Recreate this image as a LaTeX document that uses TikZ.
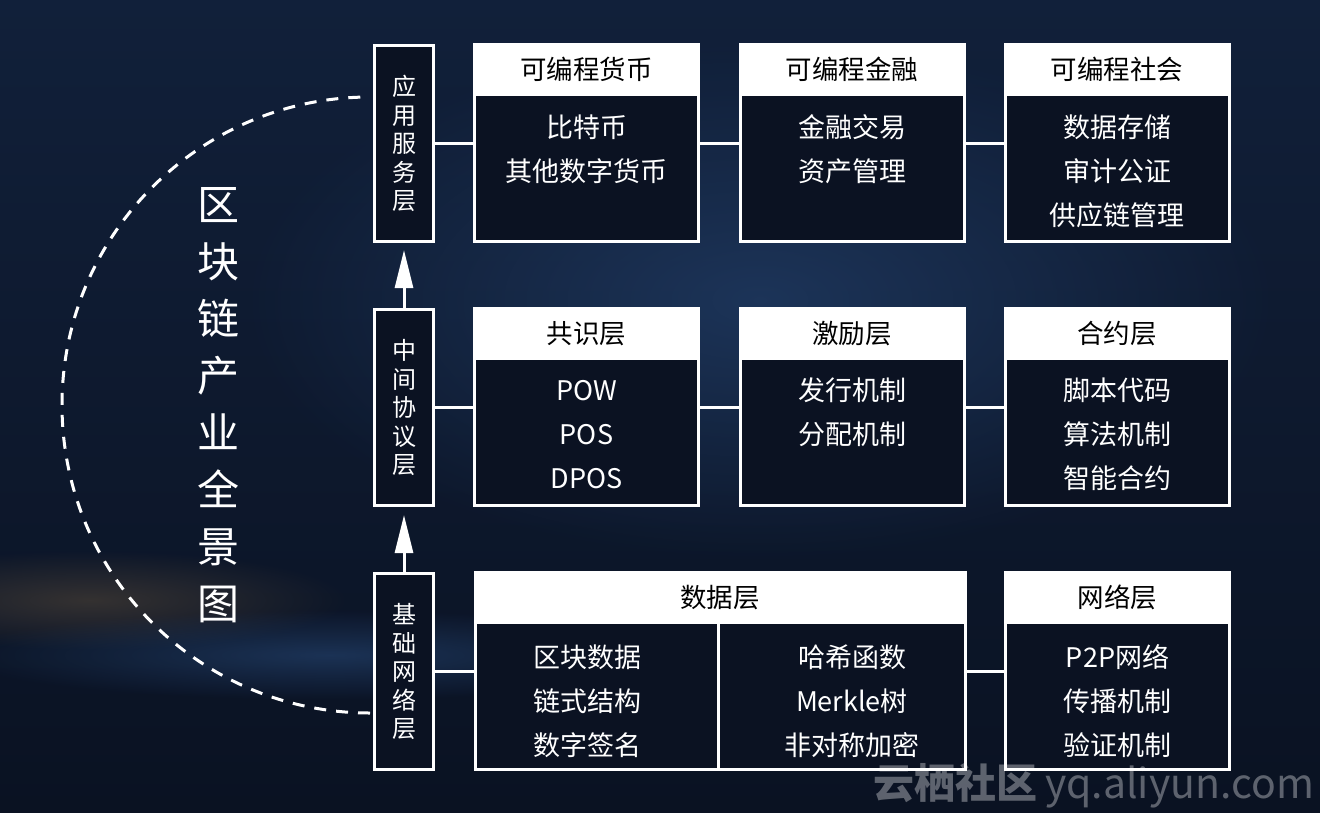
\documentclass[tikz,border=0pt]{standalone}
\usepackage{fontspec}
\setmainfont{Noto Sans CJK SC}
\usetikzlibrary{arrows.meta,fadings}
\definecolor{bgA}{HTML}{11203A}
\definecolor{bgB}{HTML}{0A1222}
\definecolor{boxbg}{HTML}{0B1222}
\definecolor{glowblue}{HTML}{24426E}
\definecolor{warm}{HTML}{4A4036}
\tikzfading[name=softglow, inner color=transparent!35, outer color=transparent!100]
\begin{document}
\begin{tikzpicture}[x=1pt,y=-1pt,
  frame/.style={draw=white, line width=3pt, fill=boxbg, minimum height=196pt, inner sep=0pt},
  layerbox/.style={draw=white, line width=3pt, fill=boxbg, minimum width=59pt, minimum height=196pt,
     inner sep=0pt, text=white, align=center, font=\fontsize{24}{28.5}\selectfont},
  header/.style={fill=white, text=black, minimum height=53pt, inner sep=0pt, anchor=north,
     font=\fontsize{26.5}{30}\selectfont},
  bodytxt/.style={text=white, align=center, inner sep=0pt, font=\fontsize{27}{44}\selectfont},
  conn/.style={draw=white, line width=3pt},
  up/.style={conn, -{Triangle[length=38pt,width=18pt]}},
  titletxt/.style={text=white, align=center, inner sep=0pt, font=\fontsize{42}{57}\selectfont},
  wmark/.style={text=white, opacity=0.34, inner sep=0pt, font=\fontsize{41}{46}\selectfont\bfseries}
]
\useasboundingbox (0,0) rectangle (1320,812);
% background
\shade[top color=bgA, bottom color=bgB] (0,0) rectangle (1320,812);
\fill[glowblue, path fading=softglow] (760,300) ellipse [x radius=520, y radius=260];
\fill[warm, path fading=softglow] (90,600) ellipse [x radius=260, y radius=50];
\fill[glowblue, path fading=softglow] (330,655) ellipse [x radius=380, y radius=45];

% dashed arc
\draw[white, line width=3pt, dash pattern=on 12pt off 10pt] (370,713) arc[start angle=90, end angle=270, radius=308];

% title
\node[titletxt] (title) at (218,405.5) {区\\块\\链\\产\\业\\全\\景\\图};

% layer boxes
\node[layerbox] (L1) at (404,143.5) {应\\用\\服\\务\\层};
\node[layerbox] (L2) at (404,407.5) {中\\间\\协\\议\\层};
\node[layerbox] (L3) at (404,671.5) {基\\础\\网\\络\\层};

% top row
\node[frame, minimum width=224pt] (b11) at (586.5,143.5) {};
\node[header, minimum width=227pt] (h11) at ([yshift=1.5pt]b11.north) {可编程货币};
\node[bodytxt] (t11) at (586.5,149) {比特币\\其他数字货币};

\node[frame, minimum width=224pt] (b12) at (852,143.5) {};
\node[header, minimum width=227pt] (h12) at ([yshift=1.5pt]b12.north) {可编程金融};
\node[bodytxt] (t12) at (852,149) {金融交易\\资产管理};

\node[frame, minimum width=224pt] (b13) at (1117,143.5) {};
\node[header, minimum width=227pt] (h13) at ([yshift=1.5pt]b13.north) {可编程社会};
\node[bodytxt] (t13) at (1117,171) {数据存储\\审计公证\\供应链管理};

% middle row
\node[frame, minimum width=224pt] (b21) at (586.5,407.5) {};
\node[header, minimum width=227pt] (h21) at ([yshift=1.5pt]b21.north) {共识层};
\node[bodytxt] (t21) at (586.5,434.5) {POW\\POS\\DPOS};

\node[frame, minimum width=224pt] (b22) at (852,407.5) {};
\node[header, minimum width=227pt] (h22) at ([yshift=1.5pt]b22.north) {激励层};
\node[bodytxt] (t22) at (852,412.5) {发行机制\\分配机制};

\node[frame, minimum width=224pt] (b23) at (1117,407.5) {};
\node[header, minimum width=227pt] (h23) at ([yshift=1.5pt]b23.north) {合约层};
\node[bodytxt] (t23) at (1117,434.5) {脚本代码\\算法机制\\智能合约};

% bottom row
\node[frame, minimum width=490pt] (b31) at (720,671.5) {};
\node[header, minimum width=493pt] (h31) at ([yshift=1.5pt]b31.north) {数据层};
\draw[conn] ([xshift=-2pt]h31.south) -- ([xshift=-2pt]b31.south);
\node[bodytxt] (t31a) at (587,701) {区块数据\\链式结构\\数字签名};
\node[bodytxt] (t31b) at (852,701) {哈希函数\\Merkle树\\非对称加密};

\node[frame, minimum width=224pt] (b32) at (1117.5,671.5) {};
\node[header, minimum width=227pt] (h32) at ([yshift=1.5pt]b32.north) {网络层};
\node[bodytxt] (t32) at (1117.5,701) {P2P网络\\传播机制\\验证机制};

% connectors
\draw[conn] (L1.east) -- (b11.west);
\draw[conn] (b11.east) -- (b12.west);
\draw[conn] (b12.east) -- (b13.west);
\draw[conn] (L2.east) -- (b21.west);
\draw[conn] (b21.east) -- (b22.west);
\draw[conn] (b22.east) -- (b23.west);
\draw[conn] (L3.east) -- (b31.west);
\draw[conn] (b31.east) -- (b32.west);

% upward arrows
\coordinate (tip1) at (404,250);
\coordinate (tip2) at (404,515);
\draw[up] (L2.north) -- (tip1);
\draw[up] (L3.north) -- (tip2);

% watermark
\node[wmark, anchor=west] (wm) at (873,786) {云栖社区\hspace{8pt}\mdseries yq.aliyun.com};
\end{tikzpicture}
\end{document}
